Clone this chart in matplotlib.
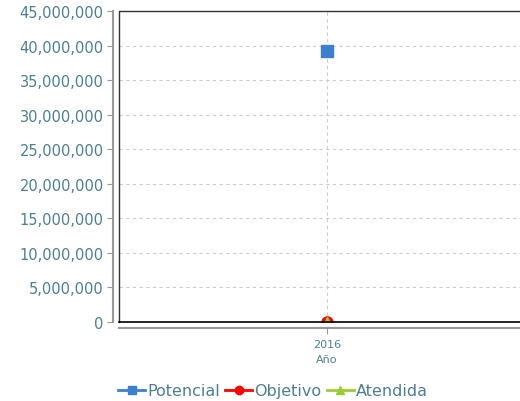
import numpy as np
import matplotlib.pyplot as plt
from matplotlib.ticker import FuncFormatter
from matplotlib.lines import Line2D

# data
years = ["2016"]
potencial = [39200000]
objetivo = [0]
atendida = [0]

txt = "#4e7f8e"
plt.rcParams['font.family'] = ['DejaVu Sans']

fig = plt.figure(figsize=(5.2, 4.02), dpi=100)
ax = fig.add_axes([119/520, 1 - 323/402, 401/520, (323 - 12)/402])

x = np.arange(len(years))
xmin, xmax = -1.0, 0.93
ax.plot(x, potencial, color="#3d7fcf", marker="s", ms=8, lw=2, clip_on=False, zorder=5)
ax.plot(x, objetivo, color="#ff0000", marker="o", ms=8, lw=2, zorder=5)
ax.plot(x, atendida, color="#9acd32", marker="^", ms=7, lw=2, zorder=6)

ax.set_xlim(xmin, xmax)
ax.set_ylim(0, 45000000)
ax.set_yticks(np.arange(0, 45000001, 5000000))
ax.yaxis.set_major_formatter(FuncFormatter(lambda v, p: f"{int(v):,}"))
ax.set_xticks(x)
ax.set_xticklabels(years)

ax.grid(True, color="#cccccc", ls=(0, (3, 3)), lw=0.8)
ax.set_axisbelow(True)

for s in ["top", "right"]:
    ax.spines[s].set_visible(False)
for s in ["left", "bottom"]:
    ax.spines[s].set_position(("outward", 4))
    ax.spines[s].set_color("#999999")
    ax.spines[s].set_linewidth(1.5)

# black plot frame
ax.add_line(Line2D([0, 0, 1], [0, 1, 1], transform=ax.transAxes, color="#333333", lw=1, clip_on=False))
ax.add_line(Line2D([0, 1], [0, 0], transform=ax.transAxes, color="black", lw=1.2, clip_on=False, zorder=7))

ax.tick_params(axis="y", colors="#999999", labelcolor=txt, labelsize=10.5, length=4, pad=3)
ax.tick_params(axis="x", colors="#999999", labelcolor=txt, labelsize=8, length=4, pad=4)
ax.set_xlabel("Año", color=txt, fontsize=8, labelpad=4)
ax.xaxis.label.set_x((0 - xmin) / (xmax - xmin))

handles = [
    Line2D([], [], color="#3d7fcf", marker="s", ms=6, lw=2),
    Line2D([], [], color="#ff0000", marker="o", ms=6, lw=2),
    Line2D([], [], color="#9acd32", marker="^", ms=6, lw=2),
]
fig.legend(handles, ["Potencial", "Objetivo", "Atendida"], loc="center", bbox_to_anchor=(0.525, 1 - 392/402),
           ncol=3, frameon=False, fontsize=11.5, labelcolor=txt, handlelength=1.7, handletextpad=0.15,
           columnspacing=0.3)

fig.savefig("out.png", dpi=100)
